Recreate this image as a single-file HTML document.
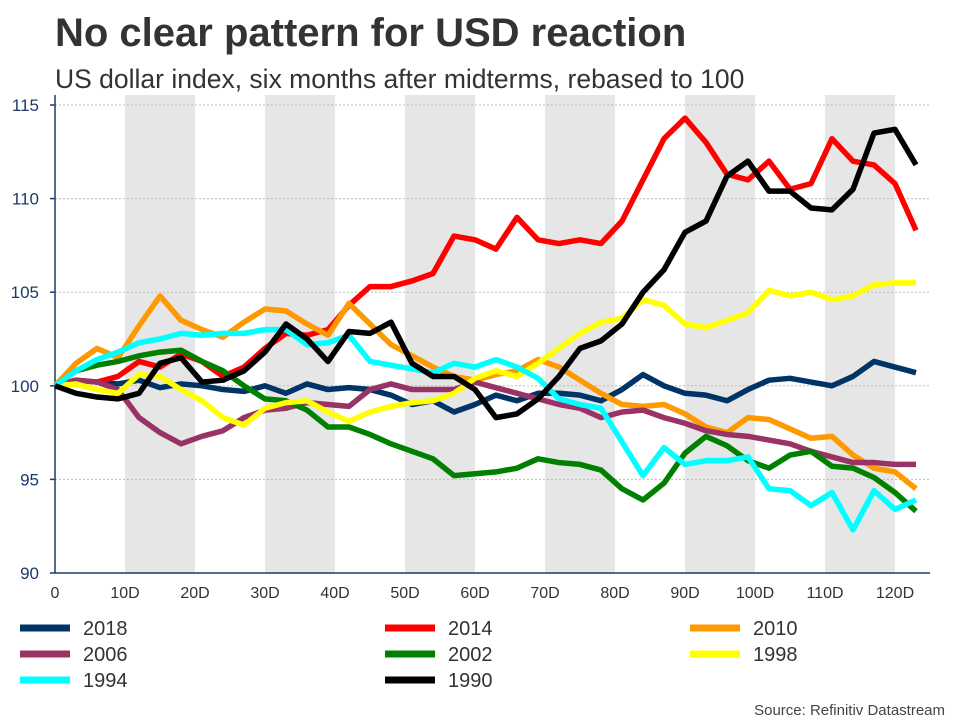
<!DOCTYPE html>
<html><head><meta charset="utf-8"><style>
body{margin:0;background:#fff;font-family:"Liberation Sans",sans-serif}
</style></head><body>
<svg id="chart" width="960" height="720" xmlns="http://www.w3.org/2000/svg" font-family="Liberation Sans, sans-serif">
<text x="55" y="46" font-size="40" font-weight="bold" fill="#333">No clear pattern for USD reaction</text>
<text x="55" y="88" font-size="26.5" fill="#333">US dollar index, six months after midterms, rebased to 100</text>
<g id="bands"></g><g id="grid"></g><g id="axes"></g><g id="series"></g><g id="legend"></g>
<text x="945" y="715" font-size="15" fill="#444" text-anchor="end">Source: Refinitiv Datastream</text>
</svg>
<script>
const days = [0,3,6,9,12,15,18,21,24,27,30,33,36,39,42,45,48,51,54,57,60,63,66,69,72,75,78,81,84,87,90,93,96,99,102,105,108,111,114,117,120,123];
const s2018 = [100,100.3,100.2,100.1,100.3,99.9,100.1,100.0,99.8,99.7,100.0,99.6,100.1,99.8,99.9,99.8,99.5,99.0,99.2,98.6,99.0,99.5,99.2,99.6,99.6,99.5,99.2,99.8,100.6,100.0,99.6,99.5,99.2,99.8,100.3,100.4,100.2,100.0,100.5,101.3,101.0,100.7];
const s2014 = [100,100.3,100.2,100.5,101.3,101.0,101.7,101.3,100.5,101.0,102.0,102.8,102.7,103.0,104.3,105.3,105.3,105.6,106.0,108.0,107.8,107.3,109.0,107.8,107.6,107.8,107.6,108.8,111.0,113.2,114.3,113.0,111.3,111.0,112.0,110.5,110.8,113.2,112.0,111.8,110.8,108.3];
const s2010 = [100,101.2,102,101.5,103.2,104.8,103.5,103,102.6,103.4,104.1,104,103.3,102.7,104.4,103.3,102.2,101.6,101,100.5,100.3,100.6,100.8,101.4,101,100.3,99.6,99,98.9,99,98.5,97.8,97.5,98.3,98.2,97.7,97.2,97.3,96.3,95.6,95.4,94.5];
const s2006 = [100,100.3,100.2,99.8,98.3,97.5,96.9,97.3,97.6,98.3,98.7,98.8,99.1,99,98.9,99.8,100.1,99.8,99.8,99.8,100.2,99.9,99.6,99.3,99.0,98.8,98.3,98.6,98.7,98.3,98,97.6,97.4,97.3,97.1,96.9,96.5,96.2,95.9,95.9,95.8,95.8];
const s2002 = [100,100.8,101.1,101.3,101.6,101.8,101.9,101.3,100.8,100,99.3,99.2,98.7,97.8,97.8,97.4,96.9,96.5,96.1,95.2,95.3,95.4,95.6,96.1,95.9,95.8,95.5,94.5,93.9,94.8,96.4,97.3,96.8,96,95.6,96.3,96.5,95.7,95.6,95.1,94.3,93.3];
const s1998 = [100,100.1,99.8,99.6,100.6,100.5,99.8,99.2,98.3,97.9,98.8,99.1,99.2,98.6,98.1,98.6,98.9,99.1,99.2,99.6,100.4,100.8,100.5,101.2,102,102.8,103.4,103.6,104.6,104.3,103.3,103.1,103.5,103.9,105.1,104.8,105,104.6,104.8,105.4,105.5,105.5];
const s1994 = [100,100.8,101.4,101.8,102.3,102.5,102.8,102.7,102.8,102.8,103,103,102.2,102.3,102.7,101.3,101.1,100.9,100.7,101.2,101,101.4,101,100.4,99.3,99,98.8,97,95.2,96.7,95.8,96,96,96.2,94.5,94.4,93.6,94.3,92.3,94.4,93.4,93.9];
const s1990 = [100,99.6,99.4,99.3,99.6,101.2,101.5,100.2,100.3,100.8,101.8,103.3,102.5,101.3,102.9,102.8,103.4,101.2,100.5,100.5,99.8,98.3,98.5,99.3,100.5,102,102.4,103.3,105,106.2,108.2,108.8,111.2,112,110.4,110.4,109.5,109.4,110.5,113.5,113.7,111.8];
const yTicks = [90,95,100,105,110,115];
const xTicks = [0,10,20,30,40,50,60,70,80,90,100,110,120];
const xTickLabels = ["0","10D","20D","30D","40D","50D","60D","70D","80D","90D","100D","110D","120D"];
const seriesNames = ["2018","2014","2010","2006","2002","1998","1994","1990"];
const seriesColors = ["#003366","#ff0000","#ff9900","#993366","#008000","#ffff00","#00ffff","#000000"];
const seriesData = [s2018,s2014,s2010,s2006,s2002,s1998,s1994,s1990];

const NS="http://www.w3.org/2000/svg";
const X0=55,X1=930,Y0=573,Y1=105;
const xs=d=>X0+d*7;
const ys=v=>Y0-(v-90)*(Y0-Y1)/25;
function mk(tag,attrs,parent){const e=document.createElementNS(NS,tag);for(const k in attrs)e.setAttribute(k,attrs[k]);parent.appendChild(e);return e;}
const bands=document.getElementById('bands'),grid=document.getElementById('grid'),axes=document.getElementById('axes'),series=document.getElementById('series'),legend=document.getElementById('legend');
for(let i=1;i<xTicks.length;i+=2){
  const b=mk('rect',{x:xs(xTicks[i]),y:95,width:xs(xTicks[i+1])-xs(xTicks[i]),height:Y0-95,fill:'#e6e6e6'},bands);
  
  
}
yTicks.forEach(v=>{
  if(v>90){const g=mk('line',{x1:X0,x2:X1,y1:ys(v),y2:ys(v),stroke:'#bbb','stroke-dasharray':'2,2','stroke-width':1},grid);
  
  }
  const t=mk('text',{x:X0-16,y:ys(v)+6,'font-size':17,fill:'#1a3a6b','text-anchor':'end'},axes);t.textContent=v;
  
  
  const tk=mk('line',{x1:X0-5,x2:X0,y1:ys(v),y2:ys(v),stroke:'#1a3a6b','stroke-width':1.5},axes);
  
  
});
const ya=mk('line',{x1:X0,x2:X0,y1:95,y2:Y0,stroke:'#1a3a6b','stroke-width':1.5},axes);


const xa=mk('line',{x1:X0,x2:X1,y1:Y0,y2:Y0,stroke:'#1a3a6b','stroke-width':1.5},axes);


xTicks.forEach((d,i)=>{
  const t=mk('text',{x:xs(d),y:Y0+25,'font-size':16,fill:'#333','text-anchor':'middle'},axes);t.textContent=xTickLabels[i];
  
  
});
seriesData.forEach((arr,si)=>{
  const pts=arr.map((v,i)=>xs(days[i])+','+ys(v)).join(' ');
  const p=mk('polyline',{points:pts,fill:'none',stroke:seriesColors[si],'stroke-width':5.5,'stroke-linejoin':'round'},series);
  
  
});
const colX=[20,385,690],rowY=[628,654,680];
seriesNames.forEach((n,i)=>{
  const cx=colX[i%3],cy=rowY[Math.floor(i/3)];
  const g=mk('g',{},legend);
  
  
  mk('line',{x1:cx,x2:cx+50,y1:cy,y2:cy,stroke:seriesColors[i],'stroke-width':7},g);
  const t=mk('text',{x:cx+63,y:cy+7,'font-size':20,fill:'#333'},g);t.textContent=n;
});
</script>
</body></html>
